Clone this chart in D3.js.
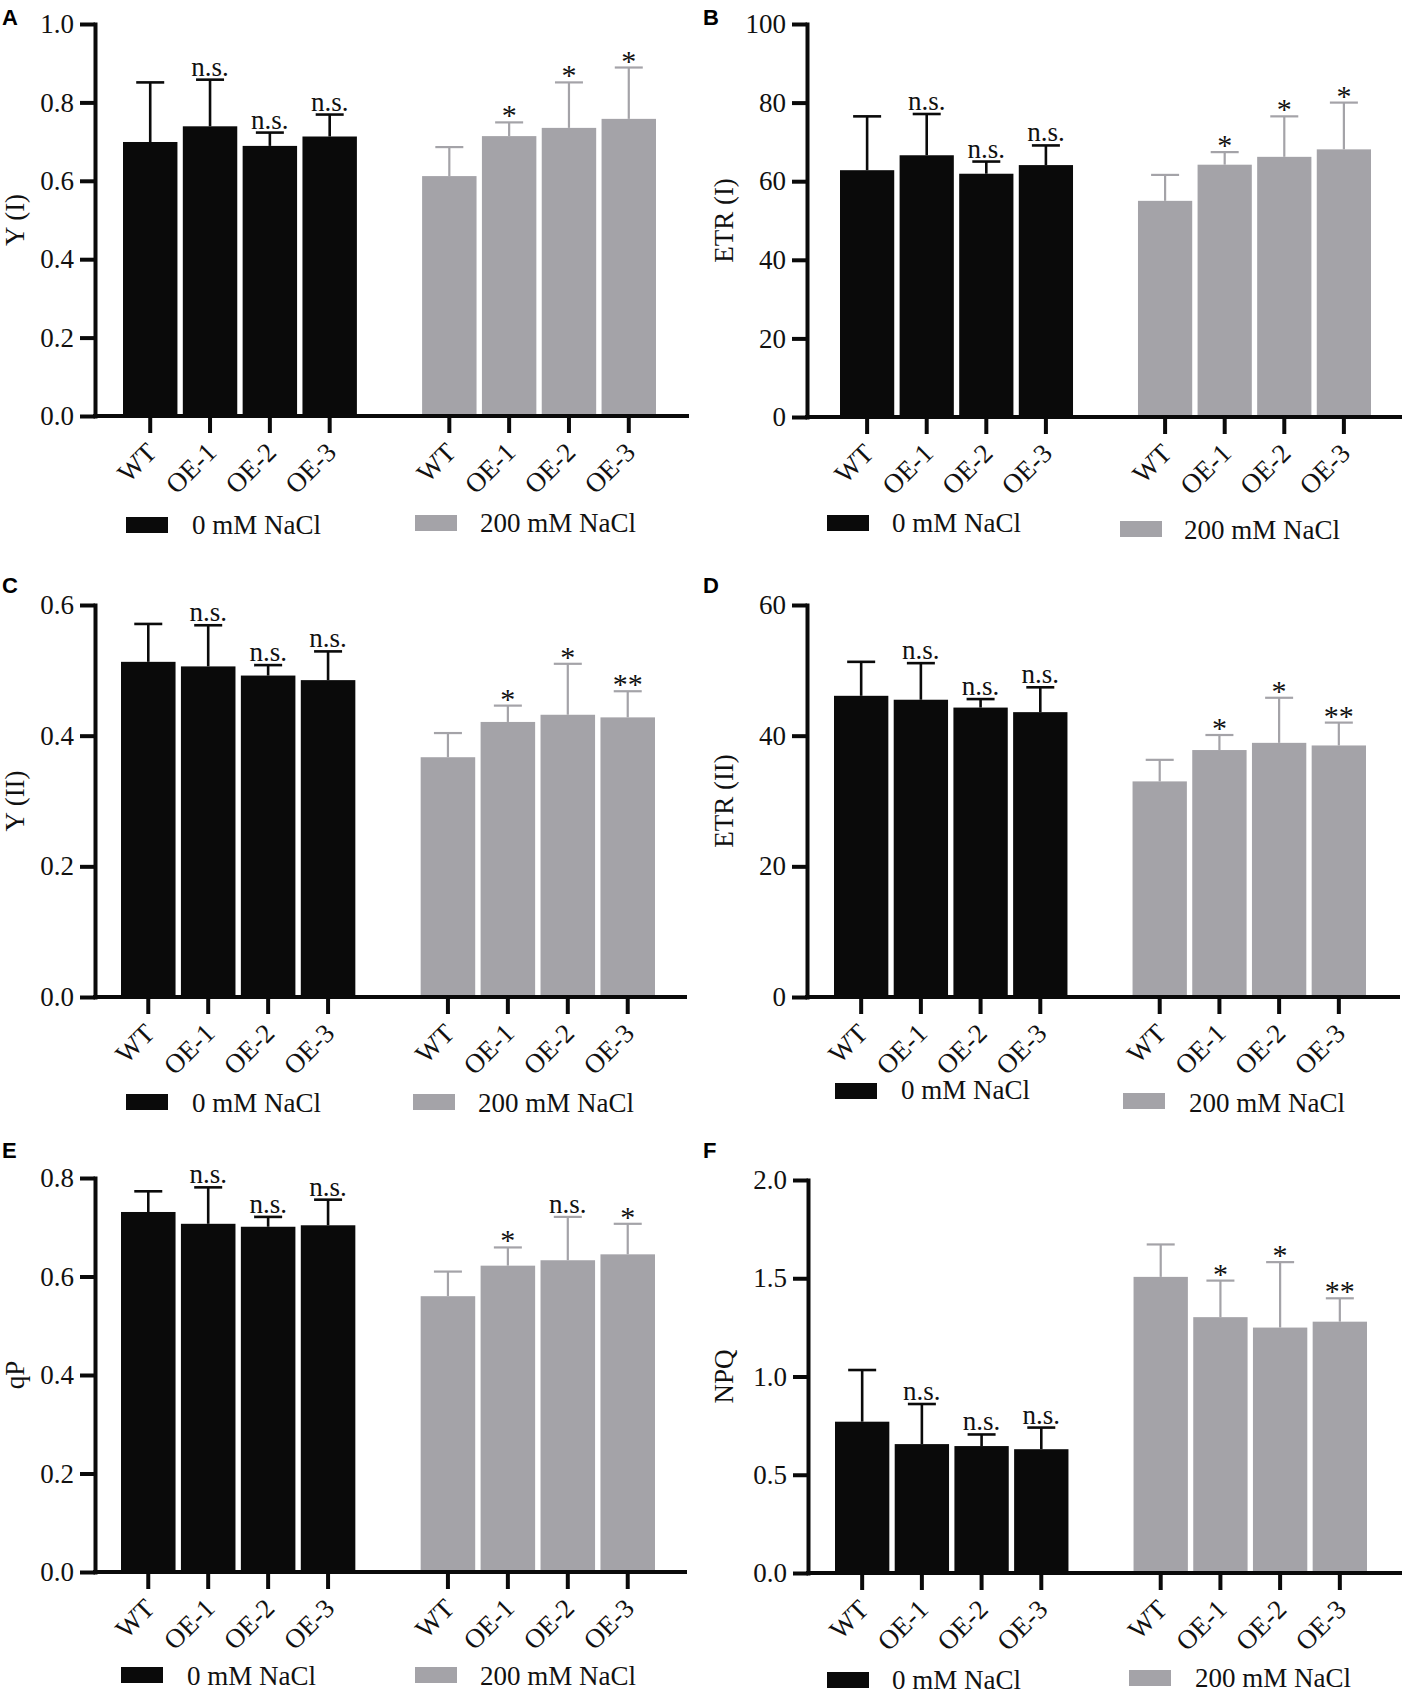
<!DOCTYPE html>
<html>
<head>
<meta charset="utf-8">
<script src="https://cdn.jsdelivr.net/npm/d3@7"></script>
<style>
	body { margin: 0; background: #fff; }
	svg { display: block; }
</style>
</head>
<body>
<div id="chart"></div>
<script>

// Categories
const genotypes = ["WT", "OE-1", "OE-2", "OE-3"];
const treatments = ["0 mM NaCl", "200 mM NaCl"];

// Y (I)
const yI_0 = [0.699, 0.739, 0.689, 0.713];
const yI_0_sd = [0.152, 0.119, 0.034, 0.056];
const yI_200 = [0.612, 0.714, 0.735, 0.758];
const yI_200_sd = [0.074, 0.035, 0.116, 0.131];
const yI_sig_0 = ["", "n.s.", "n.s.", "n.s."];
const yI_sig_200 = ["", "*", "*", "*"];
const yI_ticks = [0, 0.2, 0.4, 0.6, 0.8, 1.0];

// ETR (I)
const etrI_0 = [62.8, 66.6, 61.9, 64.1];
const etrI_0_sd = [13.7, 10.5, 3.1, 5.0];
const etrI_200 = [55.0, 64.2, 66.2, 68.1];
const etrI_200_sd = [6.6, 3.2, 10.3, 11.9];
const etrI_sig_0 = ["", "n.s.", "n.s.", "n.s."];
const etrI_sig_200 = ["", "*", "*", "*"];
const etrI_ticks = [0, 20, 40, 60, 80, 100];

// Y (II)
const yII_0 = [0.513, 0.506, 0.492, 0.485];
const yII_0_sd = [0.058, 0.063, 0.016, 0.044];
const yII_200 = [0.367, 0.421, 0.432, 0.428];
const yII_200_sd = [0.037, 0.025, 0.078, 0.040];
const yII_sig_0 = ["", "n.s.", "n.s.", "n.s."];
const yII_sig_200 = ["", "*", "*", "**"];
const yII_ticks = [0, 0.2, 0.4, 0.6];

// ETR (II)
const etrII_0 = [46.1, 45.5, 44.3, 43.6];
const etrII_0_sd = [5.2, 5.6, 1.3, 3.8];
const etrII_200 = [33.0, 37.8, 38.9, 38.5];
const etrII_200_sd = [3.3, 2.3, 6.9, 3.5];
const etrII_sig_0 = ["", "n.s.", "n.s.", "n.s."];
const etrII_sig_200 = ["", "*", "*", "**"];
const etrII_ticks = [0, 20, 40, 60];

// qP
const qP_0 = [0.731, 0.707, 0.701, 0.704];
const qP_0_sd = [0.042, 0.074, 0.020, 0.052];
const qP_200 = [0.560, 0.622, 0.633, 0.645];
const qP_200_sd = [0.050, 0.037, 0.088, 0.062];
const qP_sig_0 = ["", "n.s.", "n.s.", "n.s."];
const qP_sig_200 = ["", "*", "n.s.", "*"];
const qP_ticks = [0, 0.2, 0.4, 0.6, 0.8];

// NPQ
const npq_0 = [0.770, 0.656, 0.646, 0.630];
const npq_0_sd = [0.263, 0.204, 0.059, 0.110];
const npq_200 = [1.507, 1.302, 1.249, 1.279];
const npq_200_sd = [0.165, 0.186, 0.333, 0.119];
const npq_sig_0 = ["", "n.s.", "n.s.", "n.s."];
const npq_sig_200 = ["", "*", "*", "**"];
const npq_ticks = [0, 0.5, 1.0, 1.5, 2.0];

const BLACK = "#0a0a0a";
const GRAY = "#a4a3a8";
const SERIF = "'Liberation Serif', 'Times New Roman', serif";

const W = 1403, H = 1696;

const svg = d3.select("#chart").append("svg")
	.attr("width", W)
	.attr("height", H);

// panel placement (pixel layout only)
const panels = [
	{ letter: "A", label: "Y (I)", lx: 2, ly: 25, axisX: 95, top: 24, bottom: 416, barL: 123, barR: 656, axisEnd: 687, labX: 24,
	  m0: yI_0, s0: yI_0_sd, m1: yI_200, s1: yI_200_sd, g0: yI_sig_0, g1: yI_sig_200, ticks: yI_ticks, fmt: ".1f",
	  leg: [[126, 517, 192, 534], [415, 515, 480, 532]] },
	{ letter: "B", label: "ETR (I)", lx: 703, ly: 25, axisX: 807, top: 24, bottom: 417, barL: 840, barR: 1371, axisEnd: 1400, labX: 733,
	  m0: etrI_0, s0: etrI_0_sd, m1: etrI_200, s1: etrI_200_sd, g0: etrI_sig_0, g1: etrI_sig_200, ticks: etrI_ticks, fmt: "d",
	  leg: [[827, 515, 892, 532], [1120, 521, 1184, 539]] },
	{ letter: "C", label: "Y (II)", lx: 2, ly: 593, axisX: 95, top: 605, bottom: 997, barL: 121, barR: 655, axisEnd: 685, labX: 24,
	  m0: yII_0, s0: yII_0_sd, m1: yII_200, s1: yII_200_sd, g0: yII_sig_0, g1: yII_sig_200, ticks: yII_ticks, fmt: ".1f",
	  leg: [[126, 1094, 192, 1112], [413, 1094, 478, 1112]] },
	{ letter: "D", label: "ETR (II)", lx: 703, ly: 593, axisX: 807, top: 605, bottom: 997, barL: 834, barR: 1366, axisEnd: 1398, labX: 733,
	  m0: etrII_0, s0: etrII_0_sd, m1: etrII_200, s1: etrII_200_sd, g0: etrII_sig_0, g1: etrII_sig_200, ticks: etrII_ticks, fmt: "d",
	  leg: [[835, 1083, 901, 1099], [1123, 1093, 1189, 1112]] },
	{ letter: "E", label: "qP", lx: 2, ly: 1158, axisX: 95, top: 1178, bottom: 1572, barL: 121, barR: 655, axisEnd: 685, labX: 24,
	  m0: qP_0, s0: qP_0_sd, m1: qP_200, s1: qP_200_sd, g0: qP_sig_0, g1: qP_sig_200, ticks: qP_ticks, fmt: ".1f",
	  leg: [[121, 1667, 187, 1685], [415, 1667, 480, 1685]] },
	{ letter: "F", label: "NPQ", lx: 703, ly: 1158, axisX: 808, top: 1180, bottom: 1573, barL: 835, barR: 1367, axisEnd: 1400, labX: 733,
	  m0: npq_0, s0: npq_0_sd, m1: npq_200, s1: npq_200_sd, g0: npq_sig_0, g1: npq_sig_200, ticks: npq_ticks, fmt: ".1f",
	  leg: [[827, 1672, 892, 1689], [1129, 1670, 1195, 1687]] }
];

panels.forEach(drawPanel);

function drawPanel(p) {
	const g = svg.append("g");

	// slots: 4 genotypes, an empty gap, 4 genotypes
	const slots = genotypes.map(d => "0|" + d).concat(["gap"], genotypes.map(d => "1|" + d));

	const x = d3.scaleBand()
		.domain(slots)
		.range([p.barL, p.barR])
		.paddingInner(0.09)
		.paddingOuter(0);

	const y = d3.scaleLinear()
		.domain([0, d3.max(p.ticks)])
		.range([p.bottom, p.top]);

	// flatten series into rows
	const rows = [];
	genotypes.forEach((gt, i) => {
		rows.push({ key: "0|" + gt, t: 0, mean: p.m0[i], sd: p.s0[i], sig: p.g0[i] });
	});
	genotypes.forEach((gt, i) => {
		rows.push({ key: "1|" + gt, t: 1, mean: p.m1[i], sd: p.s1[i], sig: p.g1[i] });
	});

	// bars
	g.selectAll(".bar")
		.data(rows)
		.enter().append("rect")
		.attr("class", "bar")
		.attr("x", d => x(d.key))
		.attr("y", d => y(d.mean))
		.attr("width", x.bandwidth())
		.attr("height", d => y(0) - y(d.mean))
		.attr("fill", d => d.t === 0 ? BLACK : GRAY);

	// error bars (upper only)
	const capW = 28;
	const eb = g.selectAll(".err")
		.data(rows)
		.enter().append("g")
		.attr("class", "err")
		.attr("stroke", d => d.t === 0 ? BLACK : GRAY)
		.attr("stroke-width", d => d.t === 0 ? 2.6 : 2.2);

	eb.append("line")
		.attr("x1", d => x(d.key) + x.bandwidth() / 2)
		.attr("x2", d => x(d.key) + x.bandwidth() / 2)
		.attr("y1", d => y(d.mean))
		.attr("y2", d => y(d.mean + d.sd));

	eb.append("line")
		.attr("x1", d => x(d.key) + x.bandwidth() / 2 - capW / 2)
		.attr("x2", d => x(d.key) + x.bandwidth() / 2 + capW / 2)
		.attr("y1", d => y(d.mean + d.sd))
		.attr("y2", d => y(d.mean + d.sd));

	// significance labels
	g.selectAll(".sig")
		.data(rows.filter(d => d.sig))
		.enter().append("text")
		.attr("class", "sig")
		.attr("x", d => x(d.key) + x.bandwidth() / 2)
		.attr("y", d => y(d.mean + d.sd) + (d.sig === "n.s." ? -4 : 3))
		.attr("text-anchor", "middle")
		.style("font-family", SERIF)
		.style("font-size", d => d.sig === "n.s." ? "27px" : "30px")
		.attr("fill", "#111")
		.text(d => d.sig);

	// y axis
	const yAxis = g.append("g")
		.attr("transform", `translate(${p.axisX},0)`)
		.call(d3.axisLeft(y)
			.tickValues(p.ticks)
			.tickFormat(d3.format(p.fmt))
			.tickSize(15)
			.tickSizeOuter(0)
			.tickPadding(6));
	yAxis.select(".domain")
		.attr("stroke", BLACK)
		.attr("stroke-width", 4)
		.attr("stroke-linecap", "square");
	yAxis.selectAll(".tick line")
		.attr("stroke", BLACK)
		.attr("stroke-width", 4);
	yAxis.selectAll(".tick text")
		.style("font-family", SERIF)
		.style("font-size", "27px")
		.attr("fill", "#111");

	// x axis (baseline drawn by hand, ticks from the band scale)
	g.append("line")
		.attr("x1", p.axisX)
		.attr("x2", p.axisEnd)
		.attr("y1", y(0))
		.attr("y2", y(0))
		.attr("stroke", BLACK)
		.attr("stroke-width", 4)
		.attr("stroke-linecap", "square");

	const xAxis = g.append("g")
		.attr("transform", `translate(0,${y(0)})`)
		.call(d3.axisBottom(x)
			.tickValues(slots.filter(d => d !== "gap"))
			.tickSize(17)
			.tickFormat(""));
	xAxis.select(".domain").remove();
	xAxis.selectAll(".tick line")
		.attr("stroke", BLACK)
		.attr("stroke-width", 4);
	xAxis.selectAll(".tick").append("text")
		.attr("text-anchor", "end")
		.attr("transform", "translate(8,38) rotate(-45)")
		.style("font-family", SERIF)
		.style("font-size", "27px")
		.attr("fill", "#111")
		.text(d => d.split("|")[1]);

	// y axis title
	g.append("text")
		.attr("transform", `translate(${p.labX},${(p.top + p.bottom) / 2}) rotate(-90)`)
		.attr("text-anchor", "middle")
		.style("font-family", SERIF)
		.style("font-size", "27px")
		.attr("fill", "#111")
		.text(p.label);

	// panel letter
	g.append("text")
		.attr("x", p.lx)
		.attr("y", p.ly)
		.style("font-family", "'Liberation Sans', Arial, sans-serif")
		.style("font-weight", "bold")
		.style("font-size", "22px")
		.attr("fill", "#000")
		.text(p.letter);

	// legend
	treatments.forEach((t, i) => {
		const l = p.leg[i];
		g.append("rect")
			.attr("x", l[0])
			.attr("y", l[1])
			.attr("width", 42)
			.attr("height", 16)
			.attr("fill", i === 0 ? BLACK : GRAY);
		g.append("text")
			.attr("x", l[2])
			.attr("y", l[3])
			.style("font-family", SERIF)
			.style("font-size", "27px")
			.attr("fill", "#111")
			.text(t);
	});
}

</script>
</body>
</html>
